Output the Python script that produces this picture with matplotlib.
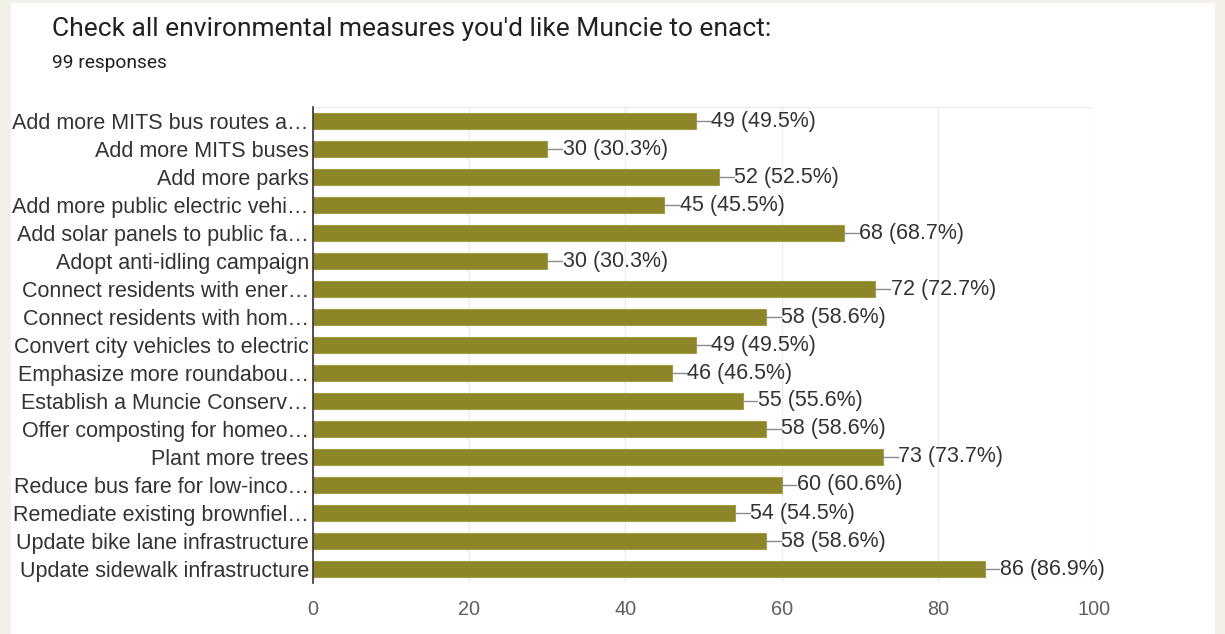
import matplotlib
matplotlib.use('Agg')
import matplotlib.pyplot as plt
from matplotlib.patches import Rectangle

# Survey answers, top to bottom
measures = [
    "Add more MITS bus routes a…",
    "Add more MITS buses",
    "Add more parks",
    "Add more public electric vehi…",
    "Add solar panels to public fa…",
    "Adopt anti-idling campaign",
    "Connect residents with ener…",
    "Connect residents with hom…",
    "Convert city vehicles to electric",
    "Emphasize more roundabou…",
    "Establish a Muncie Conserv…",
    "Offer composting for homeo…",
    "Plant more trees",
    "Reduce bus fare for low-inco…",
    "Remediate existing brownfiel…",
    "Update bike lane infrastructure",
    "Update sidewalk infrastructure",
]
counts = [49, 30, 52, 45, 68, 30, 72, 58, 49, 46, 55, 58, 73, 60, 54, 58, 86]
total_responses = 99
x_ticks = [0, 20, 40, 60, 80, 100]

BG = '#f3f0ea'
BAR = '#8c8629'
BAR_EDGE = '#a29d45'
TEXT = '#333333'
GRID = '#ebebeb'

W, H = 1225, 634
fig = plt.figure(figsize=(W / 100, H / 100), dpi=100)
fig.patch.set_facecolor(BG)

# white card behind everything
card = Rectangle((11 / W, 0), (1215 - 11) / W, 1 - 3 / H,
                 transform=fig.transFigure, facecolor='white',
                 edgecolor='none', zorder=-5)
fig.patches.append(card)

fig.text(52 / W, 1 - 29 / H, "Check all environmental measures you'd like Muncie to enact:",
         fontsize=19, family='Roboto', color='#202124', va='center', ha='left')
fig.text(52 / W, 1 - 63 / H, f"{total_responses} responses",
         fontsize=13.8, family='Roboto', color='#202124', va='center', ha='left')

ax = fig.add_axes([313 / W, 1 - 583 / H, (1094 - 313) / W, (583 - 107) / H])
ax.set_facecolor('white')

y = list(range(len(measures)))
ax.barh(y, counts, height=0.58, color=BAR, edgecolor=BAR_EDGE, linewidth=0.8, zorder=3)
ax.set_ylim(len(measures) - 0.5, -0.5)
ax.set_xlim(0, 100)

for yi, c in zip(y, counts):
    pct = c / total_responses * 100
    ax.plot([c, c + 1.9], [yi, yi], color='#8a8a8a', lw=1.0, zorder=3, clip_on=False)
    ax.text(c + 1.95, yi, f"{c} ({pct:.1f}%)", va='center', ha='left',
            fontsize=15.5, family='Liberation Sans', color=TEXT, zorder=4, clip_on=False)

ax.set_xticks(x_ticks)
ax.set_xticklabels([str(t) for t in x_ticks], fontsize=14.3, family='Liberation Sans', color='#5f5f5f')
ax.set_yticks(y)
ax.set_yticklabels(measures, fontsize=15.5, family='Liberation Sans', color=TEXT)
ax.tick_params(axis='both', length=0)
ax.tick_params(axis='x', pad=12)
ax.tick_params(axis='y', pad=3)

ax.grid(axis='x', color=GRID, lw=1, zorder=0)
for s in ['top', 'right', 'bottom']:
    ax.spines[s].set_visible(False)
ax.axhline(-0.5, color=GRID, lw=1, zorder=1)
ax.axhline(len(measures) - 0.5, color=GRID, lw=1, zorder=1)
ax.spines['left'].set_color('#333333')
ax.spines['left'].set_linewidth(1.2)
ax.spines['left'].set_zorder(5)

fig.savefig('out.png', dpi=100, facecolor=BG)
